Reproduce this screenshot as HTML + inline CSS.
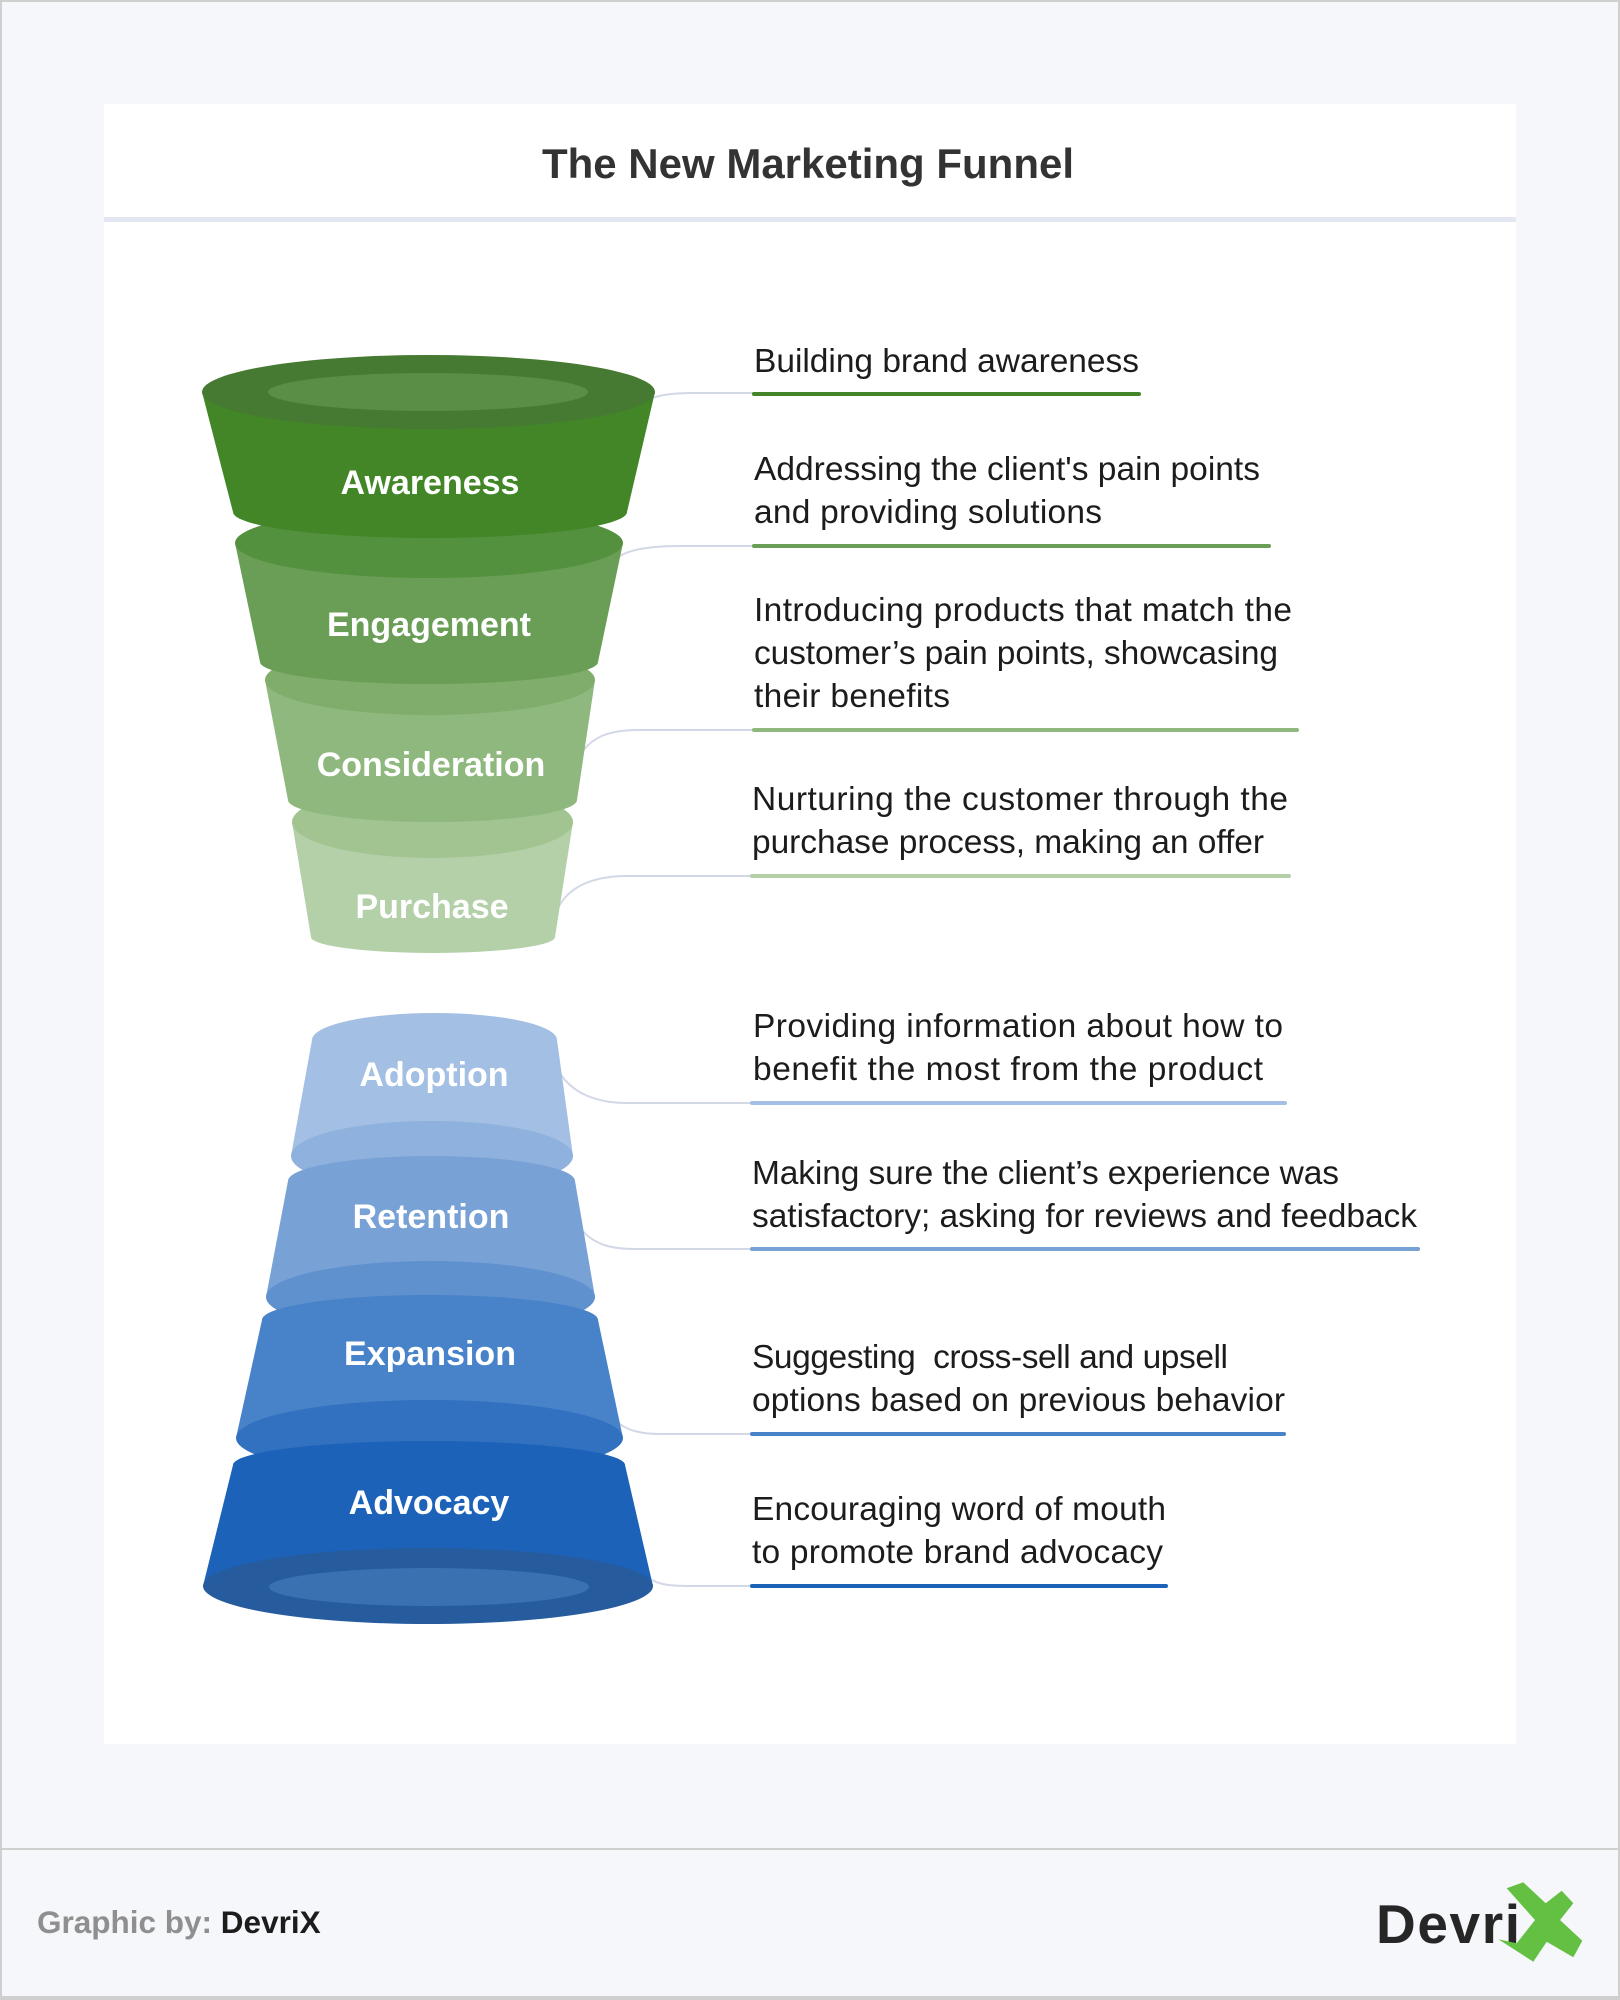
<!DOCTYPE html>
<html>
<head>
<meta charset="utf-8">
<style>
  html,body{margin:0;padding:0;background:#f6f7fb;}
  svg{display:block;}
  text{font-family:"Liberation Sans", Arial, sans-serif;}
  .lbl{font-size:34px;font-weight:bold;fill:#ffffff;text-anchor:middle;}
  .d{font-size:33.5px;fill:#1c1c1c;}
</style>
</head>
<body>
<svg width="1620" height="2000" viewBox="0 0 1620 2000" xmlns="http://www.w3.org/2000/svg">
  <!-- outer frame -->
  <rect x="0" y="0" width="1620" height="2000" fill="#cfcfcf"/>
  <rect x="2" y="2" width="1616" height="1994" fill="#f6f7fb"/>
  <rect x="2" y="1848" width="1616" height="2" fill="#cfcfcf"/>

  <!-- card -->
  <rect x="104" y="104" width="1412" height="1640" fill="#ffffff"/>
  <rect x="104" y="217" width="1412" height="5" fill="#e2e7f1"/>
  <text x="808" y="178" font-size="42" font-weight="bold" fill="#333333" text-anchor="middle">The New Marketing Funnel</text>

  <!-- connectors -->
  <g fill="none" stroke="#d3d8e6" stroke-width="2">
    <path d="M 650 399 Q 664 393 692 393 L 754 393"/>
    <path d="M 620 556 Q 636 546 680 546 L 754 546"/>
    <path d="M 582 752 C 594 736 610 730 640 730 L 754 730"/>
    <path d="M 557 910 C 568 886 594 876 627 876 L 752 876"/>
    <path d="M 557 1068 C 570 1094 598 1103 627 1103 L 752 1103"/>
    <path d="M 581 1229 C 594 1245 612 1249 635 1249 L 752 1249"/>
    <path d="M 617 1422 C 628 1431 642 1434 660 1434 L 752 1434"/>
    <path d="M 650 1579 C 660 1585 672 1586 689 1586 L 752 1586"/>
  </g>

  <!-- underlines -->
  <g stroke-width="4" stroke-linecap="round">
    <line x1="754" y1="394" x2="1139" y2="394" stroke="#43862a"/>
    <line x1="754" y1="546" x2="1269" y2="546" stroke="#6a9e56"/>
    <line x1="754" y1="730" x2="1297" y2="730" stroke="#8fb87e"/>
    <line x1="752" y1="876" x2="1289" y2="876" stroke="#b3d0a8"/>
    <line x1="752" y1="1103" x2="1285" y2="1103" stroke="#a3bfe3"/>
    <line x1="752" y1="1249" x2="1418" y2="1249" stroke="#78a1d6"/>
    <line x1="752" y1="1434" x2="1284" y2="1434" stroke="#4882c8"/>
    <line x1="752" y1="1586" x2="1166" y2="1586" stroke="#1b62b8"/>
  </g>

  <!-- upper funnel (draw bottom first) -->
  <!-- Purchase -->
  <path d="M 292 822 L 311 937 A 122 16 0 0 0 555 937 L 573 822 Z" fill="#b3d0a8"/>
  <ellipse cx="432.5" cy="822" rx="140.5" ry="36" fill="#a1c491"/>
  <!-- Consideration -->
  <path d="M 265 680 L 288 800 A 144.5 22 0 0 0 577 800 L 595 680 Z" fill="#8fb87e"/>
  <ellipse cx="430" cy="680" rx="165" ry="35" fill="#80ad6b"/>
  <!-- Engagement -->
  <path d="M 235 543 L 260 662 A 169 22 0 0 0 598 662 L 623 543 Z" fill="#6a9e56"/>
  <ellipse cx="429" cy="543" rx="194" ry="35" fill="#54913f"/>
  <!-- Awareness -->
  <path d="M 202 392 L 233 512 A 197 26 0 0 0 627 512 L 655 392 Z" fill="#428627"/>
  <ellipse cx="428.5" cy="392" rx="226.5" ry="37" fill="#467a32"/>
  <ellipse cx="428" cy="392" rx="160" ry="19" fill="#5a8e46"/>

  <text class="lbl" x="430" y="494">Awareness</text>
  <text class="lbl" x="429" y="636">Engagement</text>
  <text class="lbl" x="431" y="776">Consideration</text>
  <text class="lbl" x="432" y="918">Purchase</text>

  <!-- lower funnel (draw top first) -->
  <!-- Adoption -->
  <path d="M 312 1040 A 122.5 27 0 0 1 557 1040 L 573 1156 L 291 1156 Z" fill="#a3bfe3"/>
  <ellipse cx="432" cy="1156" rx="141" ry="35" fill="#8eb1dd"/>
  <!-- Retention -->
  <path d="M 288 1181 A 143.5 25 0 0 1 575 1181 L 595 1297 L 266 1297 Z" fill="#78a1d6"/>
  <ellipse cx="430.5" cy="1297" rx="164.5" ry="36" fill="#5f91cf"/>
  <!-- Expansion -->
  <path d="M 262 1320 A 168 25 0 0 1 598 1320 L 623 1438 L 236 1438 Z" fill="#4882c8"/>
  <ellipse cx="429.5" cy="1438" rx="193.5" ry="38" fill="#3171c0"/>
  <!-- Advocacy -->
  <path d="M 233 1465 A 196 24 0 0 1 625 1465 L 653 1586 L 203 1586 Z" fill="#1b62b8"/>
  <ellipse cx="428" cy="1586" rx="225" ry="38" fill="#265c9e"/>
  <ellipse cx="429" cy="1587" rx="160" ry="19" fill="#3a71b1"/>

  <text class="lbl" x="434" y="1086">Adoption</text>
  <text class="lbl" x="431" y="1228">Retention</text>
  <text class="lbl" x="430" y="1365">Expansion</text>
  <text class="lbl" x="429" y="1514">Advocacy</text>

  <!-- descriptions -->
  <text class="d" x="754" y="372" textLength="385" lengthAdjust="spacing">Building brand awareness</text>

  <text class="d" x="754" y="480" textLength="506" lengthAdjust="spacing">Addressing the client's pain points</text>
  <text class="d" x="754" y="523" textLength="348" lengthAdjust="spacing">and providing solutions</text>

  <text class="d" x="754" y="621" textLength="538" lengthAdjust="spacing">Introducing products that match the</text>
  <text class="d" x="754" y="664" textLength="524" lengthAdjust="spacing">customer’s pain points, showcasing</text>
  <text class="d" x="754" y="707" textLength="196" lengthAdjust="spacing">their benefits</text>

  <text class="d" x="752" y="810" textLength="536" lengthAdjust="spacing">Nurturing the customer through the</text>
  <text class="d" x="752" y="853" textLength="512" lengthAdjust="spacing">purchase process, making an offer</text>

  <text class="d" x="753" y="1037" textLength="530" lengthAdjust="spacing">Providing information about how to</text>
  <text class="d" x="753" y="1080" textLength="510" lengthAdjust="spacing">benefit the most from the product</text>

  <text class="d" x="752" y="1184" textLength="587" lengthAdjust="spacing">Making sure the client’s experience was</text>
  <text class="d" x="752" y="1227" textLength="665" lengthAdjust="spacing">satisfactory; asking for reviews and feedback</text>

  <text class="d" x="752" y="1368" textLength="476" lengthAdjust="spacing">Suggesting&#160; cross-sell and upsell</text>
  <text class="d" x="752" y="1411" textLength="533" lengthAdjust="spacing">options based on previous behavior</text>

  <text class="d" x="752" y="1520" textLength="414" lengthAdjust="spacing">Encouraging word of mouth</text>
  <text class="d" x="752" y="1563" textLength="411" lengthAdjust="spacing">to promote brand advocacy</text>

  <!-- footer -->
  <text x="37" y="1933" font-size="31.5" font-weight="bold"><tspan fill="#8f8f8f">Graphic by: </tspan><tspan fill="#1c1c1c">DevriX</tspan></text>

  <text x="1376" y="1943" font-size="55" font-weight="bold" fill="#262626" textLength="144" lengthAdjust="spacing">Devri</text>
  <polygon fill="#63c043" points="1506.7,1888.3 1523.3,1882.3 1545.7,1903.3 1561.7,1890.7 1573.3,1903.3 1560,1920 1582.3,1940.7 1573.3,1957.3 1546.7,1941.7 1533.3,1961.7 1498.3,1939.3 1516.7,1943.3 1535,1920"/>
</svg>
</body>
</html>
